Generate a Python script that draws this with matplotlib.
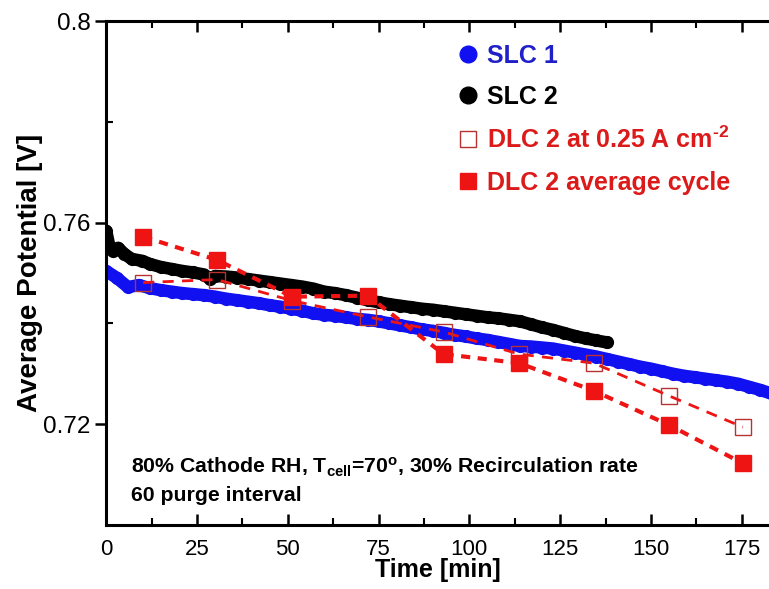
import matplotlib.pyplot as plt
from matplotlib.lines import Line2D
from matplotlib.ticker import MultipleLocator, FixedLocator

plt.rcParams['font.family'] = ['Liberation Sans', 'DejaVu Sans']
plt.rcParams['mathtext.fontset'] = 'custom'
plt.rcParams['mathtext.rm'] = 'Liberation Sans:bold'
plt.rcParams['mathtext.bf'] = 'Liberation Sans:bold'
plt.rcParams['mathtext.default'] = 'bf'

# --- Data ---
# SLC 1 (blue), time in min, potential in V
slc1_time = [0, 3, 6, 9, 12, 15, 18, 21, 24, 27, 30, 33, 36, 39, 42, 45, 48, 51,
             54, 57, 60, 63, 66, 69, 72, 75, 78, 81, 84, 87, 90, 93, 96, 99, 102,
             105, 108, 111, 114, 117, 120, 123, 126, 129, 132, 135, 138, 141, 144,
             147, 150, 153, 156, 159, 162, 165, 168, 171, 174, 177, 180, 183]
slc1_volt = [0.7504, 0.7490, 0.7472, 0.7476, 0.7470, 0.7466, 0.7463, 0.7460,
             0.7458, 0.7456, 0.7453, 0.7449, 0.7446, 0.7443, 0.7440, 0.7436,
             0.7433, 0.7429, 0.7425, 0.7420, 0.7417, 0.7415, 0.7412, 0.7409,
             0.7407, 0.7404, 0.7400, 0.7396, 0.7392, 0.7388, 0.7385, 0.7381,
             0.7377, 0.7374, 0.7370, 0.7367, 0.7363, 0.7359, 0.7355, 0.7354,
             0.7352, 0.7350, 0.7346, 0.7342, 0.7338, 0.7334, 0.7329, 0.7324,
             0.7319, 0.7314, 0.7310, 0.7305, 0.7300, 0.7296, 0.7293, 0.7290,
             0.7287, 0.7284, 0.7280, 0.7274, 0.7268, 0.7261]

# SLC 2 (black)
slc2_time = [0, 1, 2, 3.3, 5, 7, 10, 12, 15, 18, 21, 24, 27, 28.6, 30, 33, 36,
             39, 42, 45, 48, 51, 54, 57, 60, 63, 66, 69, 72, 75, 78, 81, 84, 87,
             90, 93, 96, 99, 102, 105, 108, 111, 114, 117, 120, 123, 126, 129,
             132, 135, 138]
slc2_volt = [0.7584, 0.7550, 0.7543, 0.7550, 0.7538, 0.7528, 0.7524, 0.7518,
             0.7512, 0.7508, 0.7504, 0.7501, 0.7497, 0.7488, 0.7494, 0.7493,
             0.7491, 0.7488, 0.7485, 0.7482, 0.7479, 0.7476, 0.7473, 0.7469,
             0.7463, 0.7460, 0.7456, 0.7451, 0.7446, 0.7442, 0.7438, 0.7435,
             0.7432, 0.7429, 0.7427, 0.7424, 0.7421, 0.7418, 0.7415, 0.7412,
             0.7410, 0.7407, 0.7404, 0.7398, 0.7392, 0.7387, 0.7381, 0.7375,
             0.7370, 0.7366, 0.7362]

# DLC 2 cycles
dlc_time = [10.2, 30.5, 51.2, 72.0, 92.9, 113.7, 134.3, 155.0, 175.3]
dlc_025_volt = [0.7481, 0.7487, 0.7445, 0.7413, 0.7383, 0.7339, 0.7321, 0.7256, 0.7194]
dlc_avg_volt = [0.7572, 0.7526, 0.7453, 0.7455, 0.7339, 0.7321, 0.7266, 0.7198, 0.7122]

blue = '#1010f0'
red = '#ee1414'
open_red = '#b83232'

fig = plt.figure(figsize=(7.69, 5.89), dpi=100)
ax = fig.add_axes([0.138, 0.109, 0.862, 0.855])

# dense measured traces drawn as a thick band of overlapping dots
ax.plot(slc1_time, slc1_volt, '-o', color=blue, linewidth=9, markersize=9.5,
        markeredgewidth=0, solid_capstyle='round')
ax.plot(slc2_time, slc2_volt, '-o', color='black', linewidth=9, markersize=9.5,
        markeredgewidth=0, solid_capstyle='round')
ax.plot(dlc_time, dlc_025_volt, linestyle=(0, (4, 3)), color=red, linewidth=2.0,
        marker='s', markersize=11.5, markerfacecolor='none',
        markeredgecolor=open_red, markeredgewidth=1.0)
ax.plot(dlc_time, dlc_avg_volt, linestyle=(0, (2.2, 1.8)), color=red, linewidth=3.0,
        marker='s', markersize=12, markerfacecolor=red, markeredgecolor=red)

ax.set_xlim(0, 182.5)
ax.set_ylim(0.70, 0.80)

ax.xaxis.set_major_locator(MultipleLocator(25))
ax.xaxis.set_minor_locator(MultipleLocator(12.5))
ax.yaxis.set_major_locator(FixedLocator([0.72, 0.76, 0.80]))
ax.yaxis.set_minor_locator(FixedLocator([0.74, 0.78]))
ax.set_yticklabels(['0.72', '0.76', '0.8'])

ax.tick_params(axis='x', which='both', direction='in', top=True, labelsize=16, pad=10)
ax.tick_params(axis='x', which='major', length=8, width=1.8)
ax.tick_params(axis='x', which='minor', length=5, width=1.5)
ax.tick_params(axis='y', which='major', direction='out', length=8, width=1.8,
               labelsize=17.5, pad=3)
ax.tick_params(axis='y', which='minor', direction='in', length=5, width=1.5)

for side in ['left', 'bottom', 'top']:
    ax.spines[side].set_linewidth(2.2)
ax.spines['right'].set_visible(False)

ax.set_xlabel('Time [min]', fontsize=18, fontweight='bold', labelpad=-1)
ax.set_ylabel('Average Potential [V]', fontsize=20, fontweight='bold', labelpad=0)

ax.text(6.9, 0.7114, r'80% Cathode RH, T$_{cell}$=70$^{o}$, 30% Recirculation rate',
        fontsize=15.3, fontweight='bold', va='center')
ax.text(6.9, 0.7059, '60 purge interval', fontsize=15.3, fontweight='bold', va='center')

handles = [
    Line2D([], [], linestyle='none', marker='o', color=blue, markersize=12),
    Line2D([], [], linestyle='none', marker='o', color='black', markersize=12),
    Line2D([], [], linestyle='none', marker='s', markerfacecolor='none',
           markeredgecolor=open_red, markeredgewidth=1.0, markersize=12),
    Line2D([], [], linestyle='none', marker='s', color=red, markersize=12),
]
labels = ['SLC 1', 'SLC 2', r'DLC 2 at 0.25 A cm$^{\text{-2}}$', 'DLC 2 average cycle']
ax.legend(handles, labels, loc='upper left', bbox_to_anchor=(0.497, 0.99),
          frameon=False, prop={'size': 18, 'weight': 'bold'},
          labelcolor=['#2020c8', 'black', '#dc1a1a', '#dc1a1a'],
          handletextpad=0.15, handlelength=1.2, labelspacing=0.7, borderpad=0.2)

fig.savefig('out.png', dpi=100)
